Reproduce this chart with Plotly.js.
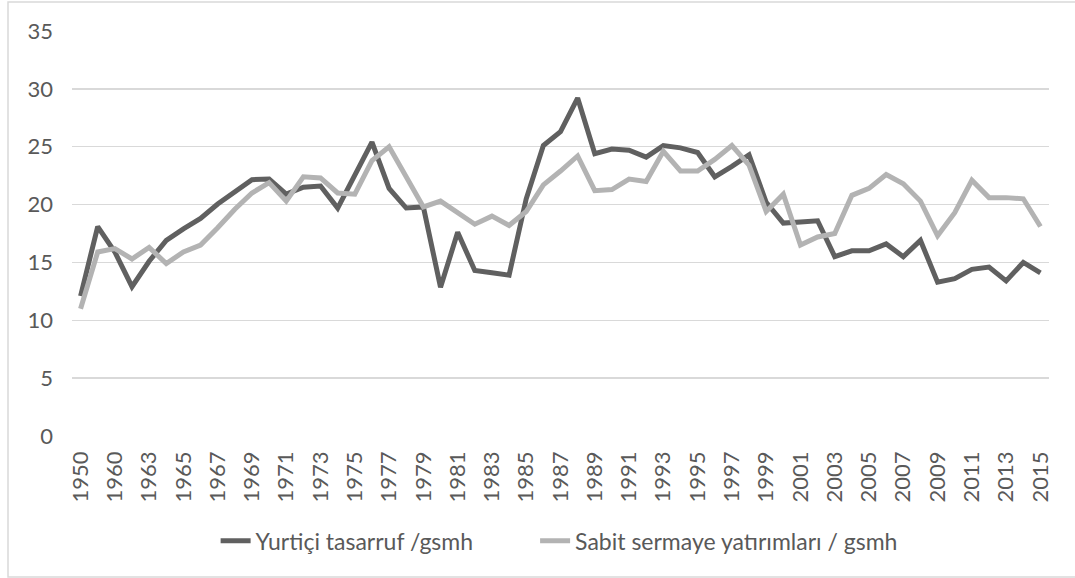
<!DOCTYPE html>
<html>
<head>
<meta charset="utf-8">
<script src="https://cdn.plot.ly/plotly-3.0.1.min.js"></script>
<style>html,body{margin:0;padding:0;background:#fff;}#chart{width:1075px;height:578px;}</style>
</head>
<body>
<div id="chart"></div>
<script>
var categories = ["1950","1955","1960","1962","1963","1964","1965","1966","1967","1968","1969","1970","1971","1972","1973","1974","1975","1976","1977","1978","1979","1980","1981","1982","1983","1984","1985","1986","1987","1988","1989","1990","1991","1992","1993","1994","1995","1996","1997","1998","1999","2000","2001","2002","2003","2004","2005","2006","2007","2008","2009","2010","2011","2012","2013","2014","2015"];
var tickLabels = ["1950","1960","1963","1965","1967","1969","1971","1973","1975","1977","1979","1981","1983","1985","1987","1989","1991","1993","1995","1997","1999","2001","2003","2005","2007","2009","2011","2013","2015"];
var yurticiTasarruf = [12.1,18.1,15.9,12.9,15.1,16.9,17.9,18.8,20.05,21.1,22.15,22.2,20.9,21.5,21.6,19.7,22.6,25.4,21.4,19.7,19.8,12.85,17.6,14.3,14.1,13.9,20.5,25.1,26.3,29.2,24.4,24.8,24.7,24.1,25.1,24.9,24.5,22.4,23.3,24.3,20.2,18.4,18.5,18.6,15.5,16.0,16.0,16.6,15.5,16.9,13.3,13.6,14.4,14.6,13.4,15.0,14.1];
var sabitSermaye = [11.0,15.9,16.2,15.3,16.3,14.9,15.9,16.5,18.0,19.6,21.0,21.9,20.3,22.4,22.3,21.0,20.9,23.8,25.0,22.3,19.8,20.3,19.3,18.3,19.0,18.2,19.4,21.7,22.9,24.2,21.2,21.3,22.2,22.0,24.6,22.9,22.9,23.9,25.1,23.4,19.4,20.9,16.5,17.2,17.5,20.8,21.4,22.6,21.8,20.3,17.3,19.3,22.1,20.6,20.6,20.5,18.1];
var seriesNames = ["Yurtiçi tasarruf /gsmh","Sabit sermaye yatırımları / gsmh"];
var yTicks = [0,5,10,15,20,25,30,35];

var FONT = "Lato, 'Liberation Sans', Arial, sans-serif";
var data = [
  {x: categories, y: yurticiTasarruf, type: "scatter", mode: "lines", name: seriesNames[0],
   line: {color: "#606060", width: 5}, legend: "legend"},
  {x: categories, y: sabitSermaye, type: "scatter", mode: "lines", name: seriesNames[1],
   line: {color: "#b3b3b3", width: 5}, legend: "legend2"}
];
var layout = {
  width: 1075, height: 578,
  margin: {l: 72, r: 26, t: 31, b: 142},
  paper_bgcolor: "#ffffff", plot_bgcolor: "#ffffff",
  font: {family: FONT, size: 22, color: "#595959"},
  showlegend: true,
  xaxis: {type: "category", range: [-0.5, categories.length - 0.5],
    tickmode: "array", tickvals: tickLabels, ticktext: tickLabels,
    tickangle: -90, showgrid: false, zeroline: false, showline: false, ticks: "",
    ticklabelstandoff: 10,
    tickfont: {family: FONT, size: 22, color: "#595959"}},
  yaxis: {range: [0, 35], tickmode: "array", tickvals: yTicks,
    showgrid: true, gridcolor: "#d9d9d9", gridwidth: 1.5, zeroline: false, showline: false,
    ticks: "", ticklabelstandoff: 18,
    tickfont: {family: FONT, size: 22, color: "#595959"}},
  legend: {orientation: "h", x: 0.147, xanchor: "left", y: -0.259, yanchor: "middle",
    font: {family: FONT, size: 23, color: "#595959"}, bgcolor: "rgba(0,0,0,0)"},
  legend2: {orientation: "h", x: 0.474, xanchor: "left", y: -0.259, yanchor: "middle",
    font: {family: FONT, size: 23, color: "#595959"}, bgcolor: "rgba(0,0,0,0)"},
  shapes: [
    {type: "rect", xref: "paper", yref: "paper", x0: -0.0655, x1: 1.05, y0: -0.3482, y1: 1.0716,
     line: {color: "#d9d9d9", width: 1.5}, fillcolor: "rgba(0,0,0,0)", layer: "below"}
  ]
};
Plotly.newPlot("chart", data, layout, {displayModeBar: false, staticPlot: true});
</script>
</body>
</html>
